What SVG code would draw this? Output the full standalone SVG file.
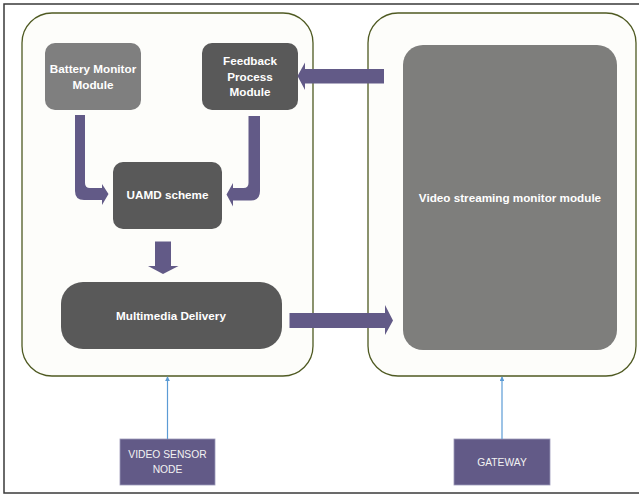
<svg xmlns="http://www.w3.org/2000/svg" width="639" height="496" viewBox="0 0 639 496">
<defs>
<style>
.container{fill:#FDFDFA;stroke:#4F5A22;stroke-width:1.3}
.mod{stroke:none}
.light{fill:#7F7F7F}
.dark{fill:#595959}
.lbl{font-family:"Liberation Sans",Arial,sans-serif;font-weight:bold;font-size:11.7px;fill:#FFFFFF;text-anchor:middle}
.ext{fill:#625A87;stroke:#9C98B8;stroke-width:0.8}
.extl{font-family:"Liberation Sans",Arial,sans-serif;font-size:10.3px;fill:#F2F2F2;text-anchor:middle}
.fat{fill:#625A87}
.thin{stroke:#5B9BD5;stroke-width:1.2;fill:none;marker-end:url(#ah)}
</style>
<marker id="ah" viewBox="0 0 6 6" refX="5" refY="3" markerWidth="4" markerHeight="4" orient="auto">
<path d="M0,0 L6,3 L0,6 z" fill="#5B9BD5"/>
</marker>
</defs>
<rect x="0" y="0" width="639" height="496" fill="#FFFFFF"/>
<rect x="4" y="4" width="640" height="489" fill="none" stroke="#3A3A3A" stroke-width="1.5"/>

<g id="left-container"><rect class="container" x="22" y="13" width="291" height="363" rx="30"/></g>
<g id="right-container"><rect class="container" x="368" y="13" width="268" height="363" rx="30"/></g>

<g id="battery"><rect class="mod light" x="45" y="43" width="96" height="67" rx="10"/>
<text class="lbl" x="93" y="73">Battery Monitor</text><text class="lbl" x="93" y="88.5">Module</text></g>
<g id="feedback"><rect class="mod dark" x="202" y="43" width="96" height="67" rx="10"/>
<text class="lbl" x="250" y="65">Feedback</text><text class="lbl" x="250" y="80.5">Process</text><text class="lbl" x="250" y="96">Module</text></g>
<g id="uamd"><rect class="mod dark" x="113" y="162" width="109" height="67" rx="10"/>
<text class="lbl" x="167.5" y="198.5">UAMD scheme</text></g>
<g id="multimedia"><rect class="mod dark" x="61" y="282" width="221" height="67" rx="22"/>
<text class="lbl" x="171" y="320">Multimedia Delivery</text></g>
<g id="video-monitor"><rect class="mod" fill="#7E7E7C" x="403" y="45" width="214" height="305" rx="20"/>
<text class="lbl" x="510" y="202">Video streaming monitor module</text></g>

<g id="sensor"><rect class="ext" x="120" y="439" width="95" height="46"/>
<text class="extl" x="167.5" y="458">VIDEO SENSOR</text><text class="extl" x="167.5" y="473">NODE</text></g>
<g id="gateway"><rect class="ext" x="454" y="439" width="96" height="46"/>
<text class="extl" x="502" y="465.5">GATEWAY</text></g>

<g id="connectors">
<path class="fat" d="M75,115 H85 V183 Q85,188 90,188 H102 V184 L108.5,194 L102,205 V200 H84 Q75,200 75,191 Z"/>
<path class="fat" d="M260,116 H248.5 V183 Q248.5,188 243.5,188 H233 V183 L226.5,194.5 L233,206.5 V200.5 H251 Q260,200.5 260,191 Z"/>
<path class="fat" d="M384,69 H305 V62.5 L297.5,76 L305,90 V83.5 H384 Z"/>
<path class="fat" d="M155,241.5 H171 V266 H178.5 L163,274 L148,266 H155 Z"/>
<path class="fat" d="M289.5,313 H385 V305 L393,320.5 L385,335 V328 H289.5 Z"/>
<line class="thin" x1="167.5" y1="439" x2="167.5" y2="377"/>
<line class="thin" x1="502" y1="439" x2="502" y2="377"/>
</g>
</svg>
